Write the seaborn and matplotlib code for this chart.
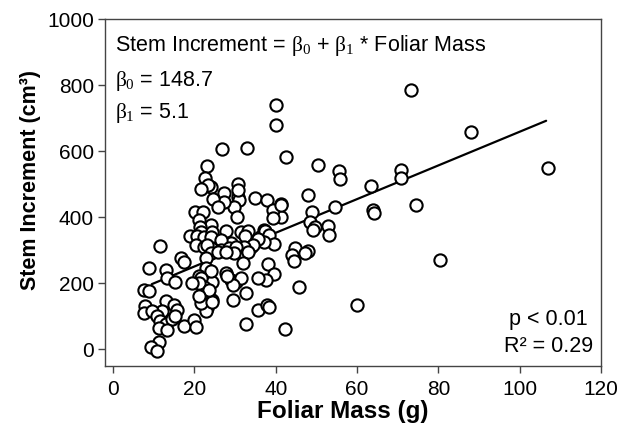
import matplotlib
matplotlib.use("Agg")
import matplotlib.pyplot as plt
import seaborn as sns
import pandas as pd
import numpy as np

foliar_mass = [
    73.3, 40, 40, 88, 107, 26.8, 32.8, 42.6, 50.3, 55.6, 55.9, 70.8, 70.8, 63.5, 64, 64.2,
    74.5, 80.5, 60, 42.3, 45.6, 48, 48.8, 48.3, 49.6, 49.2, 52.9, 53, 54.6, 44.8, 44, 47.9,
    41.3, 41.3, 35, 37.8, 39.2, 39.4, 30.6, 31, 29.7, 30.4, 30.6, 30.6, 27.2, 27.3, 24,
    23.2, 22.7, 23.3, 21.5, 24.6, 25.7, 20.2, 22, 21, 24, 21.4, 21.5, 19, 20.7, 22.4, 24.4,
    24, 27.7, 31.4, 33.1, 32.5, 37.1, 36.2, 38, 37.4, 38.4, 39.6, 37, 35.6, 34, 34.5, 32.3,
    29, 26.5, 20.3, 22.4, 24, 23.2, 26.5, 28.5, 30.2, 29.8, 24, 25.7, 27.7, 33.1, 31.9, 38,
    39.5, 37.6, 35.6, 27.7, 29, 30.2, 31.4, 29.4, 28.1, 24.4, 32.7, 29.4, 24.4, 23.2, 22.8,
    21.5, 21.5, 24.2, 35.6, 37.8, 38.4, 32.7, 44.4, 47.1, 22.8, 22.8, 24, 21.1, 21.5, 22.4,
    21.1, 19.5, 23.6, 21.1, 16.6, 17.4, 11.6, 8.8, 13, 13.3, 15.3, 7.5, 8.9, 12.9, 14.9,
    15.8, 12, 7.9, 7.5, 9.6, 10.8, 11.6, 12.9, 14.5, 15.3, 11.2, 13.3, 17.4, 19.9, 20.3,
    11.2, 9.4, 10.8, 41.3,
]
stem_increment = [
    785, 740, 680, 659, 548, 607, 608, 582, 558, 539, 516, 543, 518, 494, 421, 414,
    438, 271, 135, 60, 190, 466, 416, 386, 371, 361, 374, 346, 431, 307, 286, 299,
    439, 400, 457, 453, 421, 397, 461, 451, 430, 400, 501, 481, 474, 446, 490,
    556, 518, 496, 484, 455, 432, 415, 416, 391, 376, 371, 356, 344, 342, 341, 356,
    341, 358, 354, 359, 343, 361, 339, 333, 358, 346, 320, 325, 335, 310, 316, 311,
    321, 331, 316, 311, 306, 316, 301, 306, 311, 291, 291, 296, 296, 296, 261, 259,
    229, 210, 216, 231, 211, 205, 216, 196, 221, 205, 170, 150, 150, 125, 117,
    165, 140, 143, 120, 135, 127, 75, 266, 291, 276, 246, 236, 221, 216, 190,
    201, 202, 180, 160, 276, 263, 312, 246, 241, 216, 205, 180, 175, 145, 133,
    120, 115, 132, 110, 115, 100, 85, 75, 92, 100, 65, 57, 70, 90, 67,
    22, 7, -5, 436,
]

beta0 = 148.7
beta1 = 5.1
x_ticks = [0, 20, 40, 60, 80, 100, 120]
y_ticks = [0, 200, 400, 600, 800, 1000]

sns.set_theme(style="white")
plt.rcParams["font.family"] = ["Liberation Sans", "DejaVu Sans"]
plt.rcParams["mathtext.fontset"] = "custom"
plt.rcParams["mathtext.rm"] = "Liberation Serif"
plt.rcParams["mathtext.it"] = "Liberation Serif"
plt.rcParams["mathtext.bf"] = "Liberation Serif:bold"
plt.rcParams["text.color"] = "black"
plt.rcParams["axes.labelcolor"] = "black"
plt.rcParams["xtick.color"] = "black"
plt.rcParams["ytick.color"] = "black"

df = pd.DataFrame({"Foliar Mass": foliar_mass, "Stem Increment": stem_increment})
xl = np.array([9.5, 106.5])
line_df = pd.DataFrame({"x": xl, "y": beta0 + beta1 * xl})

fig = plt.figure(figsize=(6.33, 4.37), dpi=100)
ax = fig.add_axes([0.1659, 0.163, 0.7836, 0.7935])

sns.lineplot(data=line_df, x="x", y="y", color="black", linewidth=1.6, ax=ax, zorder=1)
sns.scatterplot(data=df, x="Foliar Mass", y="Stem Increment", ax=ax,
                facecolor="white", edgecolor="black", linewidth=1.5, s=78, zorder=2)

ax.set_xlim(-2, 120)
ax.set_ylim(-50, 1000)
ax.set_xticks(x_ticks)
ax.set_yticks(y_ticks)
ax.tick_params(axis="both", which="both", direction="out", length=5, width=1,
               color="#444444", labelcolor="black", labelsize=15, bottom=True, left=True)
ax.tick_params(axis="x", pad=5)
ax.tick_params(axis="y", pad=3)
for s in ax.spines.values():
    s.set_color("#444444")
    s.set_linewidth(1.0)

ax.set_xlabel("Foliar Mass (g)", fontsize=17.5, fontweight="bold", color="black")
ax.set_ylabel("Stem Increment (cm³)", fontsize=15.5, fontweight="bold", color="black")
ax.xaxis.set_label_coords(0.48, -0.098)
ax.yaxis.set_label_coords(-0.13, 0.535)

fs = 15.5
ax.text(0.4, 904, r"Stem Increment = $\beta_0$ + $\beta_1$ * Foliar Mass", fontsize=fs, va="baseline", ha="left", color="black")
ax.text(0.4, 797, r"$\beta_0$ = 148.7", fontsize=fs, va="baseline", ha="left", color="black")
ax.text(0.4, 700, r"$\beta_1$ = 5.1", fontsize=fs, va="baseline", ha="left", color="black")
ax.text(107, 74, "p < 0.01", fontsize=fs, va="baseline", ha="center", color="black")
ax.text(107, -7, "R² = 0.29", fontsize=fs, va="baseline", ha="center", color="black")

fig.savefig("out.png", dpi=100, facecolor="white")
